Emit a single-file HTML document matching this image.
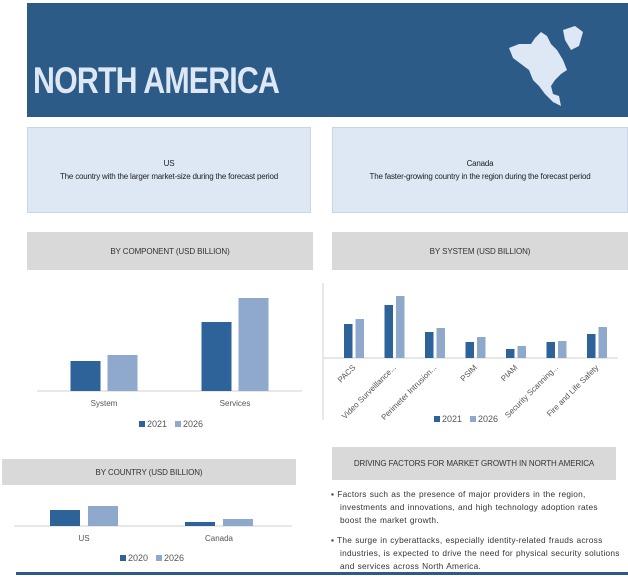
<!DOCTYPE html>
<html><head><meta charset="utf-8"><style>
body{margin:0;width:628px;height:580px;background:#fff;position:relative;overflow:hidden;font-family:"Liberation Sans",sans-serif;}
.abs{position:absolute;}
.box{background:#dde8f4;border:1px solid #c9d6e4;box-sizing:border-box;font-size:8px;color:#222;text-align:center;display:flex;flex-direction:column;justify-content:center;line-height:13px;letter-spacing:-0.2px;}
.hdr{background:#d9d9d9;font-size:8px;color:#333;display:flex;align-items:center;justify-content:center;letter-spacing:-0.1px;}
svg text{font-family:"Liberation Sans",sans-serif;}
</style></head><body>
<div class="abs" style="left:27px;top:3px;width:601px;height:114px;background:#2c5b88;"></div>
<div class="abs" style="left:33px;top:60px;color:#dde8f4;font-weight:bold;font-size:37px;letter-spacing:-1px;transform:scaleX(0.82);transform-origin:left;">NORTH AMERICA</div>
<svg class="abs" style="left:505px;top:24px" width="85" height="90" viewBox="0 0 85 90">
<path d="M4 24 L14 20 L26 20 L30 14 L36 8 L42 12 L46 20 L52 26 L58 36 L62 46 L56 50 L50 56 L46 62 L48 70 L54 72 L56 82 L48 78 L40 70 L34 62 L28 56 L24 46 L16 40 L8 34 Z" fill="#dde8f4"/>
<path d="M58 6 L70 2 L78 8 L74 22 L66 26 L60 16 Z" fill="#dde8f4"/>
</svg>
<div class="abs box" style="left:27px;top:127px;width:284px;height:86px;"><div>US</div><div>The country with the larger market-size during the forecast period</div></div>
<div class="abs box" style="left:332px;top:127px;width:296px;height:86px;"><div>Canada</div><div>The faster-growing country in the region during the forecast period</div></div>
<div class="abs hdr" style="left:27px;top:232px;width:286px;height:38px;">BY COMPONENT (USD BILLION)</div>
<div class="abs hdr" style="left:332px;top:232px;width:296px;height:38px;">BY SYSTEM (USD BILLION)</div>
<div class="abs hdr" style="left:2px;top:459px;width:294px;height:26px;">BY COUNTRY (USD BILLION)</div>
<div class="abs hdr" style="left:332px;top:447px;width:284px;height:33px;">DRIVING FACTORS FOR MARKET GROWTH IN NORTH AMERICA</div>
<div class="abs" style="left:331px;top:488px;width:290px;font-size:8.3px;line-height:13px;color:#333;letter-spacing:0.25px;word-spacing:0.5px;">
<div style="padding-left:9px;text-indent:-9px;">▪ Factors such as the presence of major providers in the region, investments and innovations, and high technology adoption rates boost the market growth.</div>
<div style="padding-left:9px;text-indent:-9px;margin-top:7px;">▪ The surge in cyberattacks, especially identity-related frauds across industries, is expected to drive the need for physical security solutions and services across North America.</div>
</div>
<div class="abs" style="left:16px;top:572px;width:612px;height:3px;background:#2c5b88;"></div>
<svg class="abs" id="charts" style="left:0;top:0" width="628" height="580"></svg>
<script>
const compCats=["System","Services"];
const comp2021=[3.0,6.9];
const comp2026=[3.6,9.3];
const sysCats=["PACS","Video Surveillance...","Perimeter Intrusion...","PSIM","PIAM","Security Scanning...","Fire and Life Safety"];
const sys2021=[3.4,5.3,2.6,1.6,0.9,1.6,2.4];
const sys2026=[3.9,6.2,3.0,2.1,1.2,1.7,3.1];
const ctryCats=["US","Canada"];
const ctry2020=[1.6,0.4];
const ctry2026=[2.0,0.7];
const NS="http://www.w3.org/2000/svg";
const svg=document.getElementById('charts');
function mk(t,a,txt){const e=document.createElementNS(NS,t);for(const k in a)e.setAttribute(k,a[k]);if(txt!==undefined)e.textContent=txt;svg.appendChild(e);return e;}
const C1="#2e6399",C2="#8ea9cc";
function chart(o){
  const y=v=>o.base-v*o.scale;
  const ln=mk('line',{x1:o.ax0,x2:o.ax1,y1:o.base,y2:o.base,stroke:'#d0d0d0','stroke-width':1});
  
  
  o.cats.forEach((c,i)=>{
    const cx=o.c0+i*o.step;
    [o.s1,o.s2].forEach((s,j)=>{
      const r=mk('rect',{x:cx-o.bw-o.gap/2+j*(o.bw+o.gap),y:y(s[i]),width:o.bw,height:s[i]*o.scale,fill:j?C2:C1});
      
      
    });
    let t;
    if(o.rot){t=mk('text',{x:cx+2,y:o.base+10,'font-size':8,fill:'#555','text-anchor':'end',transform:`rotate(-45 ${cx+2} ${o.base+10})`},c);}
    else t=mk('text',{x:cx,y:o.base+15,'font-size':8,fill:'#555','text-anchor':'middle'},c);
    
    
  });
  o.leg.forEach((l,j)=>{
    const lx=o.lx+j*36;
    const r=mk('rect',{x:lx,y:o.ly-6,width:6,height:6,fill:j?C2:C1});
    
    
    const t=mk('text',{x:lx+8,y:o.ly,'font-size':9,fill:'#555'},l);
    
    
  });
}
chart({name:'component',cats:compCats,s1:comp2021,s2:comp2026,base:391,scale:10,ax0:37,ax1:302,c0:104,step:131,bw:30,gap:7,lx:139,ly:427,leg:['2021','2026']});
chart({name:'system',cats:sysCats,s1:sys2021,s2:sys2026,base:358,scale:10,ax0:323,ax1:618,c0:354,step:40.5,bw:8.5,gap:3,rot:true,lx:434,ly:422,leg:['2021','2026']});
const vl=mk('line',{x1:323,x2:323,y1:283,y2:420,stroke:'#d0d0d0','stroke-width':1});


chart({name:'country',cats:ctryCats,s1:ctry2020,s2:ctry2026,base:526,scale:10,ax0:14,ax1:292,c0:84,step:135,bw:30,gap:8,lx:120,ly:561,leg:['2020','2026']});
</script>
</body></html>
